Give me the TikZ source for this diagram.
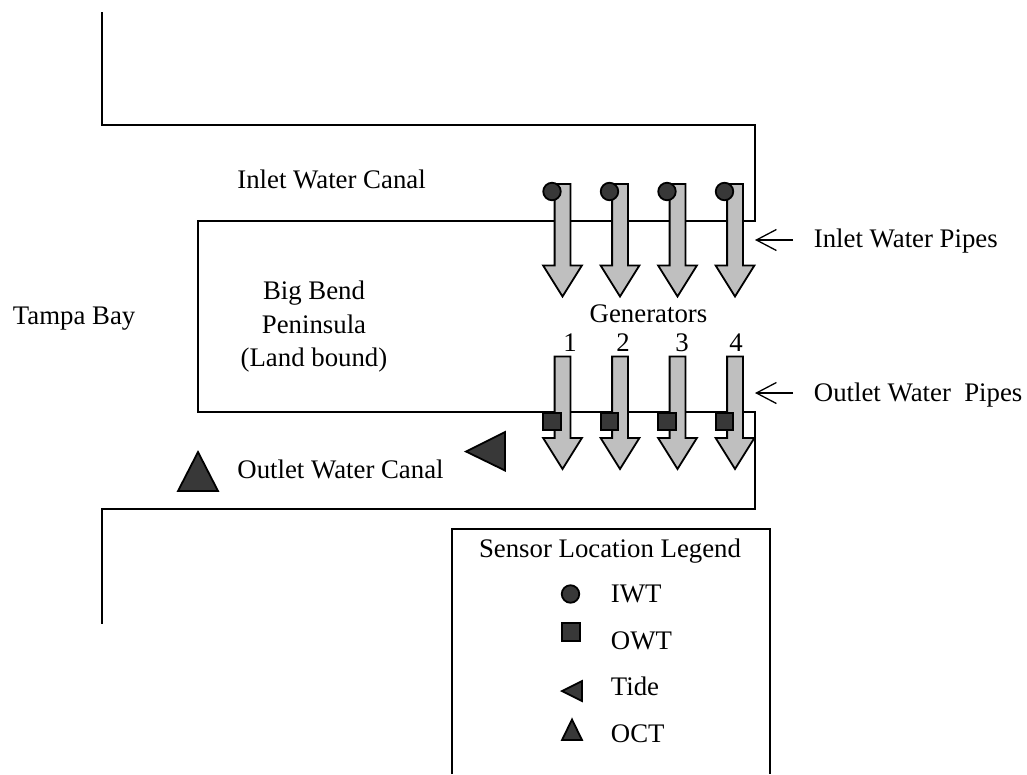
\documentclass[tikz,border=0pt]{standalone}
\usepackage{fontspec}
\setmainfont{Liberation Serif}
\usetikzlibrary{arrows.meta,shapes.arrows}
\begin{document}
\begin{tikzpicture}[x=1pt, y=-1pt, line width=1.8pt, >={Straight Barb[length=20pt,width=21pt]}]
    \tikzstyle{txt} = [inner sep=0pt, font=\fontsize{26.8}{33.5}\selectfont]
    \tikzstyle{pipe} = [draw, fill=gray!50, single arrow, shape border rotate=270, inner sep=7pt, outer sep=0pt, minimum width=37pt, minimum height=112.5pt, single arrow head extend=11.5pt, single arrow tip angle=64, anchor=tip]
    \tikzstyle{sensor} = [draw, fill=black!78, inner sep=0pt]
    \tikzstyle{iwt} = [sensor, circle, minimum size=17.5pt]
    \tikzstyle{owt} = [sensor, rectangle, minimum size=17.5pt]
    \useasboundingbox (0,0) rectangle (1027,774);

    % canal banks
    \draw (102,12) -- (102,125) -- (755,125) -- (755,221) -- (198,221) -- (198,412) -- (755,412) -- (755,509) -- (102,509) -- (102,624);

    % legend box, open at the bottom
    \draw (452,774) -- (452,529) -- (770,529) -- (770,774);

    % pipes and sensors
    \foreach \i/\x/\n in {1/562.5/570, 2/620/623, 3/677.5/682, 4/735/736} {
        \node [pipe] (inlet\i) at (\x,296.5) {};
        \node [pipe] (outlet\i) at (\x,469) {};
        \node [iwt] (iwt\i) at (\x-10.5,191.5) {};
        \node [owt] (owt\i) at (\x-10.5,421.5) {};
        \node [txt, anchor=base] (num\i) at (\n,351) {\i};
    }

    % tide and canal sensors
    \node [txt, anchor=base west] (canalin) at (236.5,188) {Inlet Water Canal};
    \node [txt, anchor=base west] (canalout) at (236.5,478) {Outlet Water Canal};
    \node [txt, anchor=base west] (bay) at (12,324) {Tampa Bay};
    \node [txt, align=center, anchor=north] (land) at (314,280) {Big Bend\\Peninsula\\(Land bound)};
    \node [txt, anchor=base] (gens) at (648.5,322) {Generators};
    \node [txt, anchor=base west] (pipesin) at (813,247) {Inlet Water Pipes};
    \node [txt, anchor=base west] (pipesout) at (813,401) {Outlet Water\ \ Pipes};

    \coordinate (pipesin-tip) at (755,240);
    \coordinate (pipesin-end) at (793,240);
    \coordinate (pipesout-tip) at (755,393);
    \coordinate (pipesout-end) at (793,393);
    \draw [->, line width=1.3pt] (pipesin-end) -- (pipesin-tip);
    \draw [->, line width=1.3pt] (pipesout-end) -- (pipesout-tip);

    \draw [sensor] (466,451.5) -- (505,432) -- (505,470.5) -- cycle;
    \draw [sensor] (178,491) -- (218,491) -- (198,452) -- cycle;

    % legend
    \node [txt, anchor=base] (legend) at (610,557) {Sensor Location Legend};
    \node [iwt] (keyiwt) at (570.5,594) {};
    \node [owt] (keyowt) at (571,632) {};
    \draw [sensor] (562,691) -- (582,681) -- (582,701) -- cycle;
    \draw [sensor] (562,740) -- (582,740) -- (572,719.5) -- cycle;
    \node [txt, anchor=base west] (txtiwt) at (610,602) {IWT};
    \node [txt, anchor=base west] (txtowt) at (610,649) {OWT};
    \node [txt, anchor=base west] (txttide) at (610,695) {Tide};
    \node [txt, anchor=base west] (txtoct) at (610,742) {OCT};
\end{tikzpicture}
\end{document}
